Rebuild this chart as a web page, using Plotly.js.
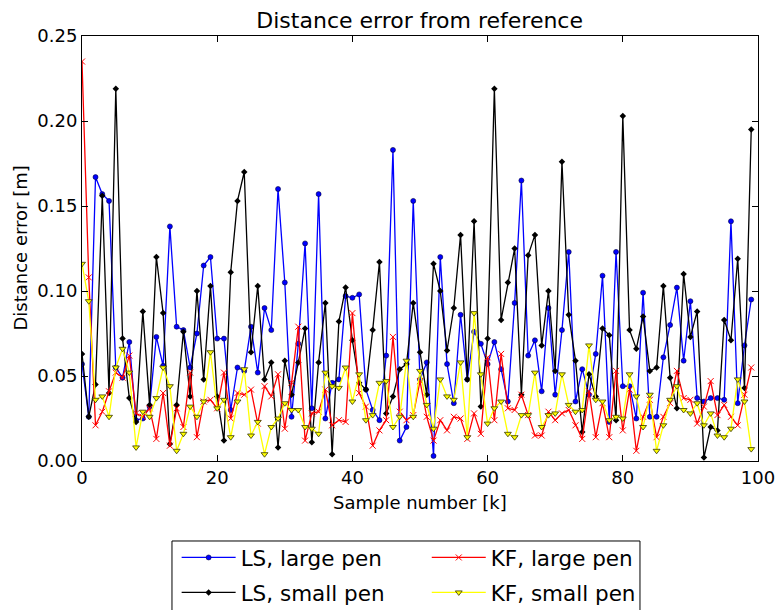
<!DOCTYPE html>
<html>
<head>
<meta charset="utf-8">
<script src="https://cdn.plot.ly/plotly-3.0.1.min.js"></script>
<style>html,body{margin:0;padding:0;background:#fff;}#chart{width:775px;height:610px;}</style>
</head>
<body>
<div id="chart"></div>
<script>
const sampleIdx = Array.from({length: 100}, (_, i) => i);

const lsLargePen = [0.057,0.026,0.167,0.157,0.153,0.055,0.049,0.070,0.024,0.025,
0.032,0.073,0.056,0.138,0.079,0.077,0.055,0.075,0.115,0.120,
0.072,0.072,0.030,0.055,0.053,0.079,0.052,0.090,0.077,0.160,
0.105,0.026,0.069,0.128,0.031,0.157,0.025,0.046,0.048,0.097,
0.096,0.098,0.042,0.030,0.024,0.062,0.183,0.012,0.020,0.153,
0.048,0.058,0.003,0.120,0.057,0.034,0.086,0.048,0.076,0.069,
0.057,0.070,0.054,0.035,0.093,0.165,0.062,0.071,0.041,0.090,
0.039,0.077,0.123,0.035,0.054,0.039,0.063,0.109,0.023,0.123,
0.044,0.044,0.025,0.099,0.026,0.026,0.061,0.080,0.102,0.059,
0.094,0.037,0.035,0.037,0.037,0.036,0.141,0.034,0.068,0.095];

const lsSmallPen = [0.063,0.026,0.045,0.156,0.040,0.219,0.072,0.037,0.023,0.088,
0.033,0.120,0.087,0.010,0.033,0.076,0.038,0.100,0.048,0.103,
0.038,0.012,0.111,0.153,0.170,0.064,0.103,0.048,0.058,0.008,
0.059,0.039,0.058,0.078,0.011,0.058,0.093,0.004,0.082,0.102,
0.071,0.046,0.042,0.077,0.117,0.028,0.038,0.054,0.057,0.093,
0.064,0.039,0.116,0.100,0.065,0.090,0.133,0.048,0.141,0.032,
0.072,0.219,0.083,0.105,0.125,0.039,0.121,0.133,0.068,0.100,
0.053,0.176,0.086,0.059,0.017,0.051,0.038,0.078,0.074,0.024,
0.203,0.077,0.066,0.085,0.053,0.055,0.103,0.049,0.031,0.110,
0.073,0.088,0.002,0.020,0.018,0.083,0.071,0.119,0.043,0.195];

const kfLargePen = [0.235,0.108,0.021,0.029,0.041,0.052,0.049,0.062,0.028,0.026,
0.031,0.013,0.040,0.009,0.031,0.020,0.052,0.014,0.035,0.036,
0.031,0.052,0.025,0.040,0.039,0.042,0.022,0.044,0.038,0.051,
0.019,0.046,0.079,0.012,0.028,0.029,0.042,0.021,0.024,0.023,
0.087,0.040,0.032,0.009,0.018,0.024,0.073,0.029,0.024,0.027,
0.047,0.026,0.012,0.024,0.018,0.026,0.025,0.013,0.028,0.016,
0.061,0.024,0.063,0.031,0.030,0.039,0.027,0.015,0.015,0.029,
0.024,0.028,0.030,0.021,0.013,0.041,0.014,0.034,0.014,0.053,
0.018,0.042,0.006,0.026,0.036,0.014,0.026,0.034,0.053,0.037,
0.036,0.022,0.032,0.047,0.027,0.033,0.026,0.021,0.039,0.055];

const kfSmallPen = [0.116,0.094,0.036,0.038,0.026,0.055,0.066,0.052,0.008,0.029,
0.026,0.037,0.055,0.044,0.006,0.016,0.032,0.026,0.035,0.064,
0.031,0.036,0.014,0.035,0.054,0.015,0.023,0.004,0.020,0.025,
0.034,0.030,0.030,0.020,0.019,0.016,0.052,0.044,0.043,0.055,
0.035,0.051,0.024,0.027,0.046,0.047,0.020,0.026,0.059,0.026,
0.053,0.033,0.019,0.048,0.038,0.036,0.058,0.014,0.087,0.051,
0.022,0.031,0.035,0.016,0.014,0.027,0.027,0.052,0.020,0.027,
0.028,0.051,0.033,0.029,0.030,0.068,0.036,0.035,0.024,0.026,
0.025,0.051,0.038,0.020,0.039,0.006,0.021,0.036,0.044,0.030,
0.028,0.034,0.021,0.028,0.015,0.014,0.019,0.048,0.035,0.007];

const seriesNames = ['LS, large pen', 'LS, small pen', 'KF, large pen', 'KF, small pen'];
const xTickVals = [0, 20, 40, 60, 80, 100];
const yTickVals = [0, 0.05, 0.10, 0.15, 0.20, 0.25];
const titleText = 'Distance error from reference';
const xTitleText = 'Sample number [k]';
const yTitleText = 'Distance error [m]';

const FONT = 'DejaVu Sans, Bitstream Vera Sans, sans-serif';

const traces = [
  {x: sampleIdx, y: lsLargePen, name: seriesNames[0], mode: 'lines+markers', legend: 'legend', legendgroup: 'a',
   line: {color: '#0000ff', width: 1.3},
   marker: {symbol: 'circle', size: 5, color: '#0000ff', line: {color: '#000040', width: 0.6}}},
  {x: sampleIdx, y: lsSmallPen, name: seriesNames[1], mode: 'lines+markers', legend: 'legend', legendgroup: 'b',
   line: {color: '#000000', width: 1.3},
   marker: {symbol: 'diamond', size: 5, color: '#000000'}},
  {x: sampleIdx, y: kfLargePen, name: seriesNames[2], mode: 'lines+markers', legend: 'legend2', legendgroup: 'c',
   line: {color: '#ff0000', width: 1.3},
   marker: {symbol: 'x-thin', size: 6, color: '#ff0000', line: {color: '#ff0000', width: 1}}},
  {x: sampleIdx, y: kfSmallPen, name: seriesNames[3], mode: 'lines+markers', legend: 'legend2', legendgroup: 'd',
   line: {color: '#ffff00', width: 1.3},
   marker: {symbol: 'triangle-down', size: 6, color: '#ffff00', line: {color: '#333300', width: 0.8}}}
];

const legendCommon = {
  orientation: 'v', yanchor: 'top', xanchor: 'left', bgcolor: 'rgba(0,0,0,0)', borderwidth: 0,
  font: {family: FONT, size: 21.5, color: '#000'}, tracegroupgap: 4, itemwidth: 54
};

const layout = {
  width: 775, height: 610,
  margin: {l: 82, r: 17, t: 36, b: 149, autoexpand: false},
  paper_bgcolor: '#ffffff', plot_bgcolor: '#ffffff',
  font: {family: FONT, color: '#000'},
  title: {text: titleText, font: {family: FONT, size: 22, color: '#000'},
          x: 0.5415, xanchor: 'center', y: 0.966, yanchor: 'middle'},
  xaxis: {range: [0, 100], tickvals: xTickVals, ticktext: xTickVals.map(String),
          ticks: 'inside', ticklen: 6, tickcolor: '#000', tickwidth: 1,
          showline: true, linecolor: '#000', linewidth: 1, mirror: 'ticks',
          showgrid: false, zeroline: false, automargin: false, ticklabeloverflow: 'allow',
          tickfont: {family: FONT, size: 18, color: '#000'}},
  yaxis: {range: [0, 0.25], tickvals: yTickVals, tickformat: '.2f',
          ticks: 'inside', ticklen: 6, tickcolor: '#000', tickwidth: 1,
          showline: true, linecolor: '#000', linewidth: 1, mirror: 'ticks',
          showgrid: false, zeroline: false, automargin: false, ticklabeloverflow: 'allow',
          tickfont: {family: FONT, size: 18, color: '#000'}},
  annotations: [
    {text: xTitleText, xref: 'paper', yref: 'paper', x: 0.5, y: -0.0988, xanchor: 'center', yanchor: 'middle',
     showarrow: false, font: {family: FONT, size: 18, color: '#000'}},
    {text: yTitleText, xref: 'paper', yref: 'paper', x: -0.0917, y: 0.5, xanchor: 'center', yanchor: 'middle',
     textangle: -90, showarrow: false, font: {family: FONT, size: 18, color: '#000'}}
  ],
  legend: Object.assign({x: 0.140, y: -0.1788}, legendCommon),
  legend2: Object.assign({x: 0.510, y: -0.1788}, legendCommon),
  shapes: [{type: 'rect', xref: 'paper', yref: 'paper', x0: 0.1331, x1: 0.8254, y0: -0.1882, y1: -0.40,
            line: {color: '#000', width: 1}, fillcolor: 'rgba(0,0,0,0)', layer: 'above'}],
  showlegend: true
};

Plotly.newPlot('chart', traces, layout, {displayModeBar: false, staticPlot: true});
</script>
</body>
</html>
